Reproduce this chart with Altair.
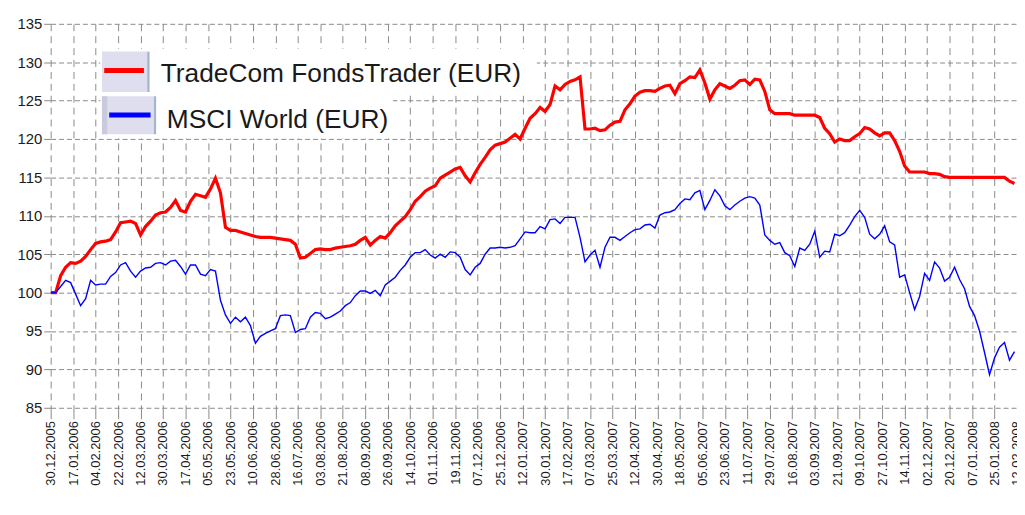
import altair as alt
import pandas as pd

SERIES = ["TradeCom FondsTrader (EUR)", "MSCI World (EUR)"]
COLORS = ["#ff0000", "#0000ff"]
START_DATE = "2005-12-30"
STEP_DAYS = 4

TRADECOM = [
    100.0, 100.0, 102.2, 103.3, 103.9, 103.8, 104.1, 104.7, 105.6, 106.4,
    106.6, 106.7, 106.9, 107.9, 109.1, 109.2, 109.3, 109.0, 107.5, 108.6,
    109.3, 110.1, 110.4, 110.5, 111.1, 112.0, 110.7, 110.5, 111.9, 112.8,
    112.6, 112.4, 113.5, 114.9, 113.0, 108.5, 108.1, 108.1, 107.9, 107.7,
    107.5, 107.3, 107.2, 107.2, 107.2, 107.1, 107.0, 106.9, 106.8, 106.3,
    104.5, 104.6, 105.1, 105.6, 105.7, 105.6, 105.6, 105.8, 105.9, 106.0,
    106.1, 106.3, 106.8, 107.2, 106.2, 106.8, 107.3, 107.1, 107.8, 108.7,
    109.3, 109.9, 110.8, 111.9, 112.5, 113.2, 113.6, 113.9, 114.9, 115.3,
    115.7, 116.1, 116.3, 115.2, 114.4, 115.6, 116.7, 117.6, 118.6, 119.2,
    119.4, 119.6, 120.1, 120.6, 120.0, 121.4, 122.7, 123.3, 124.1, 123.6,
    124.5, 126.9, 126.4, 127.1, 127.5, 127.7, 128.1, 121.3, 121.3, 121.4,
    121.1, 121.2, 121.8, 122.2, 122.3, 123.8, 124.6, 125.6, 126.1, 126.3,
    126.3, 126.2, 126.6, 126.9, 127.0, 125.9, 127.2, 127.6, 128.1, 128.0,
    129.0, 127.3, 125.2, 126.4, 127.2, 126.9, 126.6, 127.0, 127.6, 127.7,
    127.1, 127.8, 127.7, 126.2, 123.8, 123.3, 123.3, 123.3, 123.3, 123.1,
    123.1, 123.1, 123.1, 123.1, 122.8, 121.4, 120.7, 119.6, 120.0, 119.8,
    119.8, 120.3, 120.7, 121.5, 121.3, 120.8, 120.4, 120.8, 120.8, 119.8,
    118.4, 116.5, 115.7, 115.7, 115.7, 115.7, 115.5, 115.5, 115.4, 115.1,
    115.0, 115.0, 115.0, 115.0, 115.0, 115.0, 115.0, 115.0, 115.0, 115.0,
    115.0, 115.0, 114.5, 114.2,
]

MSCI = [
    100.0, 100.0, 100.8, 101.6, 101.3, 99.8, 98.3, 99.2, 101.6, 101.0,
    101.1, 101.1, 102.1, 102.6, 103.6, 103.9, 102.8, 102.0, 102.8, 103.2,
    103.3, 103.8, 103.9, 103.6, 104.1, 104.2, 103.4, 102.4, 103.6, 103.6,
    102.4, 102.2, 103.0, 102.8, 99.0, 97.1, 96.0, 96.8, 96.2, 96.8,
    95.7, 93.4, 94.3, 94.7, 95.0, 95.3, 97.0, 97.1, 97.0, 94.8,
    95.2, 95.3, 96.8, 97.4, 97.3, 96.6, 96.8, 97.2, 97.6, 98.3,
    98.7, 99.6, 100.2, 100.2, 99.9, 100.3, 99.6, 101.0, 101.5, 102.0,
    102.9, 103.6, 104.6, 105.2, 105.2, 105.6, 104.9, 104.5, 105.0, 104.6,
    105.3, 105.2, 104.6, 103.0, 102.3, 103.3, 103.8, 105.0, 105.8, 105.8,
    105.9, 105.8, 105.9, 106.1, 107.0, 107.9, 107.8, 107.8, 108.6, 108.3,
    109.5, 109.6, 109.0, 109.8, 109.8, 109.8, 107.2, 104.0, 104.9, 105.5,
    103.3, 105.9, 107.2, 107.2, 106.8, 107.3, 107.8, 108.2, 108.3, 108.8,
    108.9, 108.4, 110.1, 110.4, 110.5, 110.8, 111.6, 112.2, 112.1, 113.0,
    113.3, 110.8, 112.0, 113.4, 112.6, 111.3, 110.8, 111.4, 111.9, 112.3,
    112.5, 112.3, 111.4, 107.5, 106.8, 106.3, 106.5, 105.2, 104.8, 103.4,
    105.8, 105.5, 106.3, 108.0, 104.6, 105.4, 105.3, 107.6, 107.4, 107.8,
    108.8, 109.9, 110.7, 109.8, 107.6, 107.0, 107.6, 108.7, 106.6, 106.2,
    102.0, 102.3, 100.0, 97.8, 99.5, 102.5, 101.6, 104.0, 103.2, 101.5,
    102.0, 103.3, 101.7, 100.5, 98.2, 97.0, 95.0, 92.2, 89.3, 91.5,
    92.9, 93.5, 91.2, 92.3,
]

TICK_DATES = [
    "2005-12-30", "2006-01-17", "2006-02-04", "2006-02-22", "2006-03-12",
    "2006-03-30", "2006-04-17", "2006-05-05", "2006-05-23", "2006-06-10",
    "2006-06-28", "2006-07-16", "2006-08-03", "2006-08-21", "2006-09-08",
    "2006-09-26", "2006-10-14", "2006-11-01", "2006-11-19", "2006-12-07",
    "2006-12-25", "2007-01-12", "2007-01-30", "2007-02-17", "2007-03-07",
    "2007-03-25", "2007-04-12", "2007-04-30", "2007-05-18", "2007-06-05",
    "2007-06-23", "2007-07-11", "2007-07-29", "2007-08-16", "2007-09-03",
    "2007-09-21", "2007-10-09", "2007-10-27", "2007-11-14", "2007-12-02",
    "2007-12-20", "2008-01-07", "2008-01-25", "2008-02-12",
]
X_DOMAIN = ["2005-12-30", "2008-02-12"]
Y_TICKS = [85, 90, 95, 100, 105, 110, 115, 120, 125, 130, 135]
Y_DOMAIN = [85, 135]

FONT = "Liberation Sans"
GRID = "#8a8a8a"
TEXT = "#1a1a1a"


def dt(s):
    y, m, d = (int(p) for p in s.split("-"))
    return alt.DateTime(year=y, month=m, date=d)


dates = pd.date_range(START_DATE, periods=len(TRADECOM), freq=f"{STEP_DAYS}D")
df = pd.concat(
    [
        pd.DataFrame({"date": dates, "value": TRADECOM, "series": SERIES[0]}),
        pd.DataFrame({"date": dates, "value": MSCI, "series": SERIES[1]}),
    ],
    ignore_index=True,
)

lines = alt.Chart(df).mark_line(clip=True).encode(
    x=alt.X(
        "date:T",
        title=None,
        scale=alt.Scale(domain=[dt(X_DOMAIN[0]), dt(X_DOMAIN[1])]),
        axis=alt.Axis(
            values=[dt(s) for s in TICK_DATES],
            format="%d.%m.%Y",
            labelAngle=270,
            labelFont=FONT,
            labelFontSize=13,
            labelColor=TEXT,
            labelPadding=2,
            labelOverlap=False,
            labelFlush=False,
            labelBound=False,
            domain=False,
            ticks=True,
            tickSize=11,
            tickColor=GRID,
            tickWidth=1,
            grid=True,
            gridColor=GRID,
            gridDash=[7, 5],
            gridWidth=1,
        ),
    ),
    y=alt.Y(
        "value:Q",
        title=None,
        scale=alt.Scale(domain=Y_DOMAIN, nice=False, zero=False),
        axis=alt.Axis(
            values=Y_TICKS,
            labelFont=FONT,
            labelFontSize=15,
            labelColor=TEXT,
            labelPadding=2,
            domain=False,
            ticks=True,
            tickSize=7,
            tickColor=GRID,
            tickWidth=1,
            grid=True,
            gridColor=GRID,
            gridDash=[5, 3],
            gridWidth=1,
        ),
    ),
    color=alt.Color("series:N", scale=alt.Scale(domain=SERIES, range=COLORS), legend=None),
    strokeWidth=alt.StrokeWidth(
        "series:N", scale=alt.Scale(domain=SERIES, range=[3.2, 1.4]), legend=None
    ),
)

one = pd.DataFrame({"k": [0]})


def rect(x1, x2, y1, y2, color):
    return alt.Chart(one).mark_rect(color=color).encode(
        x=alt.value(x1), x2=alt.value(x2), y=alt.value(y1), y2=alt.value(y2)
    )


def swatch(x1, x2, y, color):
    return alt.Chart(one).mark_rule(color=color, strokeWidth=5).encode(
        x=alt.value(x1), x2=alt.value(x2), y=alt.value(y)
    )


def label(x, y, text):
    return alt.Chart(one).mark_text(
        align="left", baseline="alphabetic", font=FONT, fontSize=26.5, color=TEXT
    ).encode(x=alt.value(x), y=alt.value(y), text=alt.value(text))


legend = [
    rect(50, 490, 25, 71, "white"),
    rect(50, 345, 71, 115, "white"),
    rect(51.7, 97.3, 28, 68.7, "#dedeee"),
    rect(97.3, 99.7, 28, 68.7, "#a4b6cc"),
    rect(51.7, 104, 73, 111.3, "#dedeee"),
    rect(51.7, 57, 73, 111.3, "#cacade"),
    rect(104, 106.3, 73, 111.3, "#a4b6cc"),
    swatch(54, 94, 47, COLORS[0]),
    swatch(59, 100.7, 92, COLORS[1]),
    label(111, 59, SERIES[0]),
    label(117, 104.7, SERIES[1]),
]

chart = (
    alt.layer(lines, *legend)
    .properties(
        width=974,
        height=387,
        padding={"left": 43, "top": 14, "right": 0, "bottom": 92},
        autosize=alt.AutoSizeParams(type="none"),
        background="white",
    )
    .configure_view(stroke="transparent")
)

chart.save("out.html", embed_options={"renderer": "svg", "actions": False})
